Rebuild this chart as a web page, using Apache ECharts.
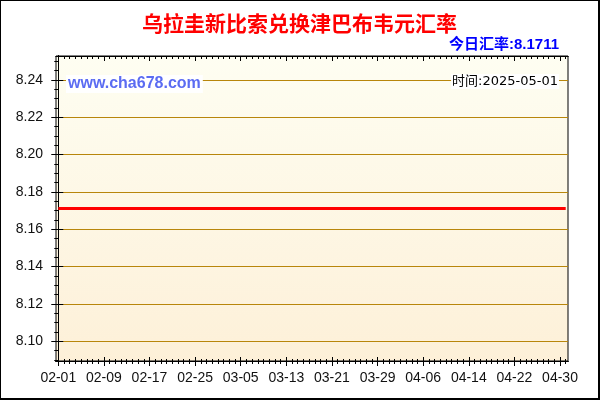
<!DOCTYPE html>
<html>
<head>
    <meta charset="utf-8">
    <title>乌拉圭新比索兑换津巴布韦元汇率</title>
    <script src="https://cdn.jsdelivr.net/npm/echarts@6/dist/echarts.min.js"></script>
    <style type="text/css">
        body{
            margin: 0;
            background: #fff;
        }
        #main{
            width: 600px;
            height: 400px;
            box-sizing: border-box;
            border-left: 1px solid #000;
            border-top: 1px solid #000;
            border-right: 2px solid #000;
            border-bottom: 2px solid #000;
        }
    </style>
</head>
<body>
<div id="main"></div>
<script>
    // 日期 (2025-02-01 ~ 2025-05-01)
    var dates = [
        '02-01','02-02','02-03','02-04','02-05','02-06','02-07','02-08','02-09','02-10',
        '02-11','02-12','02-13','02-14','02-15','02-16','02-17','02-18','02-19','02-20',
        '02-21','02-22','02-23','02-24','02-25','02-26','02-27','02-28',
        '03-01','03-02','03-03','03-04','03-05','03-06','03-07','03-08','03-09','03-10',
        '03-11','03-12','03-13','03-14','03-15','03-16','03-17','03-18','03-19','03-20',
        '03-21','03-22','03-23','03-24','03-25','03-26','03-27','03-28','03-29','03-30','03-31',
        '04-01','04-02','04-03','04-04','04-05','04-06','04-07','04-08','04-09','04-10',
        '04-11','04-12','04-13','04-14','04-15','04-16','04-17','04-18','04-19','04-20',
        '04-21','04-22','04-23','04-24','04-25','04-26','04-27','04-28','04-29','04-30',
        '05-01'
    ];
    // 汇率
    var rates = [
        8.1711,8.1711,8.1711,8.1711,8.1711,8.1711,8.1711,8.1711,8.1711,8.1711,
        8.1711,8.1711,8.1711,8.1711,8.1711,8.1711,8.1711,8.1711,8.1711,8.1711,
        8.1711,8.1711,8.1711,8.1711,8.1711,8.1711,8.1711,8.1711,
        8.1711,8.1711,8.1711,8.1711,8.1711,8.1711,8.1711,8.1711,8.1711,8.1711,
        8.1711,8.1711,8.1711,8.1711,8.1711,8.1711,8.1711,8.1711,8.1711,8.1711,
        8.1711,8.1711,8.1711,8.1711,8.1711,8.1711,8.1711,8.1711,8.1711,8.1711,8.1711,
        8.1711,8.1711,8.1711,8.1711,8.1711,8.1711,8.1711,8.1711,8.1711,8.1711,
        8.1711,8.1711,8.1711,8.1711,8.1711,8.1711,8.1711,8.1711,8.1711,8.1711,
        8.1711,8.1711,8.1711,8.1711,8.1711,8.1711,8.1711,8.1711,8.1711,8.1711,
        8.1711
    ];
    var xTickLabels = ['02-01','02-09','02-17','02-25','03-05','03-13','03-21','03-29','04-06','04-14','04-22','04-30'];
    var yTickLabels = [8.10, 8.12, 8.14, 8.16, 8.18, 8.20, 8.22, 8.24];
    var updateDate = '2025-05-01';

    var lastRate = rates[rates.length - 1];
    var yMin = lastRate * 0.99;
    var yMax = lastRate * 1.01;
    var xMin = -0.4;
    var xMax = dates.length - 0.6;

    var xMajor = xTickLabels.map(function (d) { return dates.indexOf(d); });
    var xMinor = dates.map(function (d, i) { return i; });
    var yMinor = [];
    for (var v = 8.09; v <= 8.2501; v += 0.005) {
        yMinor.push(+v.toFixed(3));
    }

    // 只画刻度的辅助坐标轴
    function tickX(pos, values, inside, len) {
        return {
            type: 'value', position: pos, min: xMin, max: xMax,
            axisLine: {show: true, lineStyle: {color: '#000', width: 1}},
            axisTick: {show: true, customValues: values, inside: inside, length: len, lineStyle: {color: '#000', width: 1}},
            axisLabel: {show: false}, splitLine: {show: false}
        };
    }
    function tickY(pos, values, inside, len) {
        return {
            type: 'value', position: pos, min: yMin, max: yMax,
            axisLine: {show: true, lineStyle: {color: '#000', width: 1}},
            axisTick: {show: true, customValues: values, inside: inside, length: len, lineStyle: {color: '#000', width: 1}},
            axisLabel: {show: false}, splitLine: {show: false}
        };
    }

    var myChart = echarts.init(document.getElementById('main'));

    var option = {
        animation: false,
        title: [
            {
                text: '乌拉圭新比索兑换津巴布韦元汇率',
                left: 'center', top: 7,
                textStyle: {color: '#ff0000', fontSize: 21, fontWeight: 'bold', fontFamily: 'Noto Sans CJK SC'}
            },
            {
                text: '今日汇率:' + lastRate.toFixed(4),
                right: 34, top: 31,
                textStyle: {color: '#0000ff', fontSize: 15, fontWeight: 'bold', fontFamily: 'Liberation Sans, Noto Sans CJK SC'}
            },
            {
                text: 'www.cha678.com',
                left: 65, top: 74,
                padding: [1, 2, 1, 2],
                backgroundColor: '#ffffff',
                textStyle: {color: '#5b6cf2', fontSize: 16, fontWeight: 'bold', fontFamily: 'Liberation Sans'}
            },
            {
                text: '时间:' + updateDate,
                right: 39, top: 73,
                padding: [1, 1, 1, 1],
                backgroundColor: '#ffffff',
                textStyle: {color: '#000', fontSize: 13, fontWeight: 'normal', fontFamily: 'DejaVu Sans, Noto Sans CJK SC'}
            }
        ],
        grid: {
            left: 55, right: 30, top: 55, bottom: 37,
            show: true,
            borderColor: '#000', borderWidth: 1,
            backgroundColor: new echarts.graphic.LinearGradient(0, 0, 0, 1, [
                {offset: 0, color: '#fefef2'},
                {offset: 1, color: '#fdf0d8'}
            ])
        },
        xAxis: [
            {
                type: 'value', position: 'bottom', min: xMin, max: xMax,
                axisLine: {show: true, lineStyle: {color: '#000', width: 1}},
                axisTick: {show: true, customValues: xMajor, length: 5, lineStyle: {color: '#000'}},
                axisLabel: {
                    show: true, customValues: xMajor, margin: 10,
                    color: '#111', fontSize: 14, fontFamily: 'Liberation Sans',
                    formatter: function (val) { return dates[Math.round(val)]; }
                },
                splitLine: {show: false}
            },
            tickX('bottom', xMinor, false, 3),
            tickX('bottom', xMinor, true, 2),
            tickX('bottom', xMajor, true, 4),
            tickX('top', xMinor, true, 3),
            tickX('top', xMajor, true, 5)
        ],
        yAxis: [
            {
                type: 'value', position: 'left', min: yMin, max: yMax,
                axisLine: {show: true, lineStyle: {color: '#000', width: 1}},
                axisTick: {show: true, customValues: yTickLabels, length: 7, lineStyle: {color: '#000'}},
                axisLabel: {
                    show: true, customValues: yTickLabels, margin: 13,
                    color: '#111', fontSize: 14, fontFamily: 'Liberation Sans',
                    formatter: function (val) { return val.toFixed(2); }
                },
                splitLine: {show: true, lineStyle: {color: '#b8860b', width: 1}}
            },
            tickY('left', yMinor, false, 4),
            tickY('left', yTickLabels, true, 5),
            tickY('right', yMinor, true, 3),
            tickY('right', yTickLabels, true, 5)
        ],
        series: [
            {
                type: 'line',
                xAxisIndex: 0, yAxisIndex: 0,
                data: rates.map(function (r, i) { return [i, r]; }),
                showSymbol: false,
                lineStyle: {color: '#ff0000', width: 3},
                silent: true
            }
        ]
    };
    option && myChart.setOption(option);
</script>
</body>
</html>
